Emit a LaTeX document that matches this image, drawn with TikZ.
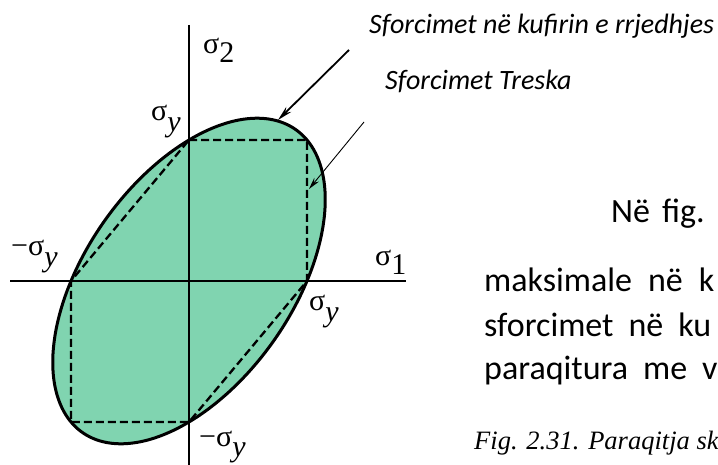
\documentclass[tikz,border=0pt]{standalone}
\usepackage{fontspec}
\setmainfont{Liberation Serif}
\newfontfamily\calfont{Carlito}
\usetikzlibrary{arrows.meta}
\definecolor{yieldgreen}{RGB}{128,212,176}
\begin{document}
\begin{tikzpicture}[x=1pt,y=-1pt,
  axisline/.style={line width=1.2pt},
  vmises/.style={line width=3pt},
  tresca/.style={dash pattern=on 8pt off 4pt, line width=2.3pt},
  lbl/.style={inner sep=0pt, anchor=base west, font=\fontsize{30}{32}\selectfont},
  note/.style={inner sep=0pt, anchor=base west, font=\calfont\itshape\fontsize{28}{30}\selectfont},
  body/.style={inner sep=0pt, anchor=base west, font=\calfont\fontsize{34}{38}\selectfont},
  capt/.style={inner sep=0pt, anchor=base west, font=\itshape\fontsize{26.5}{30}\selectfont},
  thickarrow/.style={-{Stealth[length=15pt,width=7pt]}, line width=1.8pt},
  thinarrow/.style={-{Stealth[length=12pt,width=6pt]}, line width=0.9pt}]
\clip (0,0) rectangle (718,465);
\fill[white] (0,0) rectangle (718,465);
% ellipse fill
\fill[yieldgreen] plot[domain=0:360, samples=180, smooth cycle]
  ({189+118*(cos(\x)+sin(\x)/sqrt(3))},{281-141*(cos(\x)-sin(\x)/sqrt(3))});
% axes
\coordinate (xl) at (10,281);
\coordinate (xr) at (406,281);
\coordinate (yt) at (189,25);
\coordinate (yb) at (189,470);
\draw[axisline] (xl) -- (xr);
\draw[axisline] (yt) -- (yb);
% ellipse border
\draw[vmises] plot[domain=0:360, samples=180, smooth cycle]
  ({189+118*(cos(\x)+sin(\x)/sqrt(3))},{281-141*(cos(\x)-sin(\x)/sqrt(3))});
% Tresca hexagon
\coordinate (p1) at (189,140);
\coordinate (p2) at (307,140);
\coordinate (p3) at (307,281);
\coordinate (p4) at (189,422);
\coordinate (p5) at (71,422);
\coordinate (p6) at (71,281);
\draw[tresca] (p1) -- (p2) -- (p3) -- (p4) -- (p5) -- (p6) -- cycle;
% labels
\node[lbl] (s2) at (203,54) {σ\raisebox{-0.3em}{2}};
\node[lbl] (syt) at (151,121) {σ\raisebox{-0.35em}{\itshape y}};
\node[lbl] (syl) at (11,256) {−σ\raisebox{-0.35em}{\itshape y}};
\node[lbl] (s1) at (375,266) {σ\raisebox{-0.3em}{1}};
\node[lbl] (syr) at (309,311) {σ\raisebox{-0.35em}{\itshape y}};
\node[lbl] (syb) at (199,446) {−σ\raisebox{-0.35em}{\itshape y}};
% annotation texts
\node[note] (n1) at (369,34) {Sforcimet në kufirin e rrjedhjes};
\node[note] (n2) at (385,90) {Sforcimet Treska};
% arrows
\coordinate (a1s) at (349,50);
\coordinate (a1e) at (278,120);
\coordinate (a2s) at (364,122);
\coordinate (a2e) at (309,189);
\draw[thickarrow] (a1s) -- (a1e);
\draw[thinarrow] (a2s) -- (a2e);
% body text
\node[body] (b0) at (611,223) {Në\hspace{12pt}fig.};
\node[body] (b1) at (484,292) {maksimale\hspace{16pt}në\hspace{16pt}k};
\node[body] (b2) at (484,336) {sforcimet\hspace{15pt}në\hspace{15pt}ku};
\node[body] (b3) at (484,379) {paraqitura\hspace{15pt}me\hspace{15pt}v};
\node[capt] (c1) at (474,449) {Fig. 2.31. Paraqitja ske};
\end{tikzpicture}
\end{document}
